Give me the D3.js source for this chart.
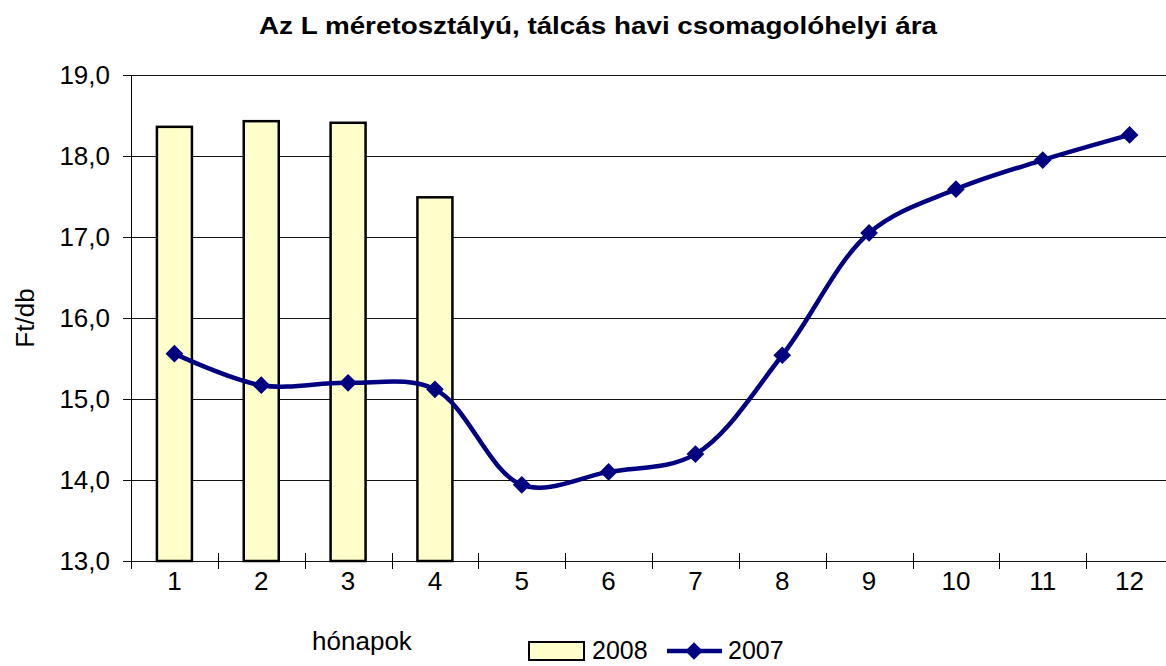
<!DOCTYPE html>
<html>
<head>
<meta charset="utf-8">
<script src="https://cdn.jsdelivr.net/npm/d3@7"></script>
<style>
  body { margin: 0; background: #fff; }
  text { font-family: "Liberation Sans", Arial, sans-serif; fill: #000; }
</style>
</head>
<body>
<svg id="chart" width="1166" height="666"></svg>
<script>
// data
const months = ["1", "2", "3", "4", "5", "6", "7", "8", "9", "10", "11", "12"];
const values2008 = [18.36, 18.43, 18.41, 17.49];
const values2007 = [15.56, 15.17, 15.20, 15.12, 13.94, 14.10, 14.32, 15.54, 17.05, 17.59, 17.95, 18.26];
const yTicks = [13, 14, 15, 16, 17, 18, 19];

const svg = d3.select("#chart");

const plotLeft = 131, plotRight = 1173, plotTop = 75, plotBottom = 561;

const x = d3.scaleBand()
    .domain(months)
    .range([plotLeft, plotRight]);

const y = d3.scaleLinear()
    .domain([13, 19])
    .range([plotBottom, plotTop]);

const fmt = d => d.toFixed(1).replace(".", ",");
const cx = m => x(m) + x.bandwidth() / 2;

// gridlines
svg.append("g")
    .selectAll("line")
    .data(yTicks)
    .join("line")
        .attr("x1", plotLeft - 8)
        .attr("x2", plotRight)
        .attr("y1", d => Math.round(y(d)) + 0.5)
        .attr("y2", d => Math.round(y(d)) + 0.5)
        .attr("stroke", "#111")
        .attr("stroke-width", 1);

// y axis labels
svg.append("g")
    .selectAll("text")
    .data(yTicks)
    .join("text")
        .attr("x", 110)
        .attr("y", d => y(d) + 9)
        .attr("text-anchor", "end")
        .style("font-size", "26px")
        .text(fmt);

// axis line
svg.append("line")
    .attr("x1", plotLeft + 0.5).attr("x2", plotLeft + 0.5)
    .attr("y1", plotTop).attr("y2", plotBottom + 8)
    .attr("stroke", "#000");

// x ticks (between categories)
svg.append("g")
    .selectAll("line")
    .data(months.slice(1))
    .join("line")
        .attr("x1", d => Math.round(x(d)) + 0.5)
        .attr("x2", d => Math.round(x(d)) + 0.5)
        .attr("y1", plotBottom - 8)
        .attr("y2", plotBottom + 8)
        .attr("stroke", "#000");

// x labels
svg.append("g")
    .selectAll("text")
    .data(months)
    .join("text")
        .attr("x", cx)
        .attr("y", 590)
        .attr("text-anchor", "middle")
        .style("font-size", "26px")
        .text(d => d);

// bars 2008
const barW = 35;
svg.append("g")
    .selectAll("rect")
    .data(values2008)
    .join("rect")
        .attr("x", (d, i) => cx(months[i]) - barW / 2)
        .attr("y", d => y(d))
        .attr("width", barW)
        .attr("height", d => y(13) - y(d))
        .attr("fill", "#ffffcc")
        .attr("stroke", "#000")
        .attr("stroke-width", 2.5);

// line 2007
const line = d3.line()
    .x((d, i) => cx(months[i]))
    .y(d => y(d))
    .curve(d3.curveCatmullRom.alpha(0.5));

svg.append("path")
    .datum(values2007)
    .attr("d", line)
    .attr("fill", "none")
    .attr("stroke", "#000080")
    .attr("stroke-width", 4.5);

const diamond = d3.symbol().type(d3.symbolDiamond2).size(200);
svg.append("g")
    .selectAll("path")
    .data(values2007)
    .join("path")
        .attr("transform", (d, i) => "translate(" + cx(months[i]) + "," + y(d) + ")")
        .attr("d", diamond)
        .attr("fill", "#000080");

// title
svg.append("text")
    .attr("x", 259)
    .attr("y", 34)
    .attr("textLength", 678)
    .attr("lengthAdjust", "spacingAndGlyphs")
    .style("font-size", "24px")
    .style("font-weight", "bold")
    .text("Az L méretosztályú, tálcás havi csomagolóhelyi ára");

// axis titles
svg.append("text")
    .attr("transform", "translate(34,318) rotate(-90)")
    .attr("text-anchor", "middle")
    .style("font-size", "26px")
    .text("Ft/db");

svg.append("text")
    .attr("x", 362)
    .attr("y", 650)
    .attr("text-anchor", "middle")
    .style("font-size", "26px")
    .text("hónapok");

// legend
const lg = svg.append("g");
lg.append("rect")
    .attr("x", 529).attr("y", 642)
    .attr("width", 55).attr("height", 18)
    .attr("fill", "#ffffcc")
    .attr("stroke", "#000")
    .attr("stroke-width", 2);
lg.append("text")
    .attr("x", 592).attr("y", 659)
    .style("font-size", "25px")
    .text("2008");
lg.append("line")
    .attr("x1", 667).attr("x2", 722)
    .attr("y1", 651).attr("y2", 651)
    .attr("stroke", "#000080")
    .attr("stroke-width", 4.5);
lg.append("path")
    .attr("transform", "translate(694,651)")
    .attr("d", diamond)
    .attr("fill", "#000080");
lg.append("text")
    .attr("x", 728).attr("y", 659)
    .style("font-size", "25px")
    .text("2007");
</script>
</body>
</html>
